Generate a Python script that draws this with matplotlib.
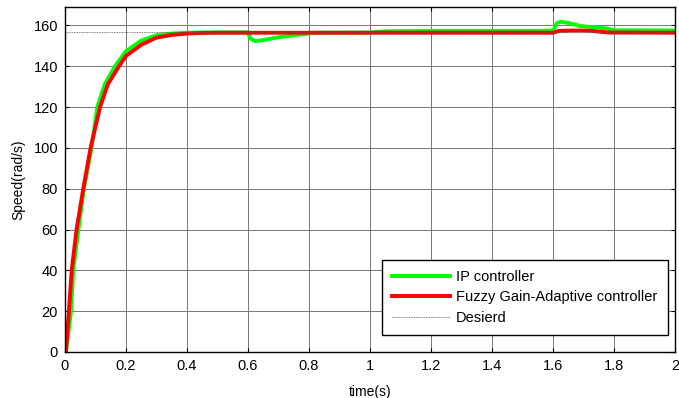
import numpy as np
import matplotlib.pyplot as plt

plt.rcParams['font.family'] = ['Liberation Sans', 'DejaVu Sans']

# IP controller response
t_ip = [0, 0.003, 0.02, 0.027, 0.044, 0.062, 0.087, 0.106, 0.13, 0.164, 0.2, 0.25,
        0.3, 0.35, 0.4, 0.45, 0.5, 0.598, 0.61, 0.623, 0.65, 0.7, 0.776, 0.82, 1.0,
        1.05, 1.2, 1.4, 1.55, 1.601, 1.612, 1.623, 1.65, 1.689, 1.74, 1.776, 1.8, 2.0]
w_ip = [0, 0, 20, 40, 60, 80, 100, 120, 131, 140, 147.4, 152.5,
        155.2, 156, 156.4, 156.5, 156.6, 156.6, 153.3, 152.3, 152.8, 154.2, 155.6, 156.4, 156.5,
        157.1, 157.3, 157.3, 157.3, 157.5, 161, 161.8, 161.2, 159.7, 159.0, 158.5, 157.6, 157.5]

# Fuzzy gain-adaptive controller response
t_fz = [0, 0.003, 0.013, 0.022, 0.038, 0.06, 0.084, 0.115, 0.14, 0.177, 0.2, 0.25, 0.3,
        0.35, 0.4, 0.45, 0.5, 1.0, 1.6, 1.62, 1.68, 1.72, 1.78, 2.0]
w_fz = [0, 0, 20, 40, 60, 80, 100, 120, 131, 140, 145, 150.5, 154,
        155.3, 156, 156.3, 156.4, 156.4, 156.4, 157.3, 157.5, 157.4, 156.5, 156.4]

desired = 156.6

fig, ax = plt.subplots(figsize=(6.79, 3.98), dpi=100)
fig.subplots_adjust(left=0.0957, right=0.9941, top=0.9824, bottom=0.1156)

ax.plot(t_ip, w_ip, color='#00ff00', lw=2.8, label='IP controller')
ax.plot(t_fz, w_fz, color='#ff0000', lw=2.8, label='Fuzzy Gain-Adaptive controller')
ax.axhline(desired, color='#555555', lw=0.6, ls=(0, (1, 1)), label='Desierd')

ax.set_xlim(0, 2)
ax.set_ylim(0, 169)
ax.set_xticks(np.arange(0, 2.01, 0.2))
ax.set_xticklabels(['0', '0.2', '0.4', '0.6', '0.8', '1', '1.2', '1.4', '1.6', '1.8', '2'])
ax.set_yticks(np.arange(0, 161, 20))
ax.tick_params(direction='in', top=True, right=True, labelsize=10.5, length=3, pad=5)
ax.grid(True, color='#777777', lw=0.7)
for s in ax.spines.values():
    s.set_linewidth(1.0)

ax.set_xlabel('time(s)', fontsize=10, labelpad=9)
ax.set_ylabel('Speed(rad/s)', fontsize=10, labelpad=6)

leg = ax.legend(loc='lower right', bbox_to_anchor=(0.988, 0.049), fontsize=10.5, fancybox=False,
                framealpha=1, edgecolor='black', borderpad=0.7, handlelength=4.0,
                handletextpad=0.4, labelspacing=0.45, borderaxespad=0)
leg.get_frame().set_linewidth(1.0)

fig.savefig('out.png', dpi=100)
